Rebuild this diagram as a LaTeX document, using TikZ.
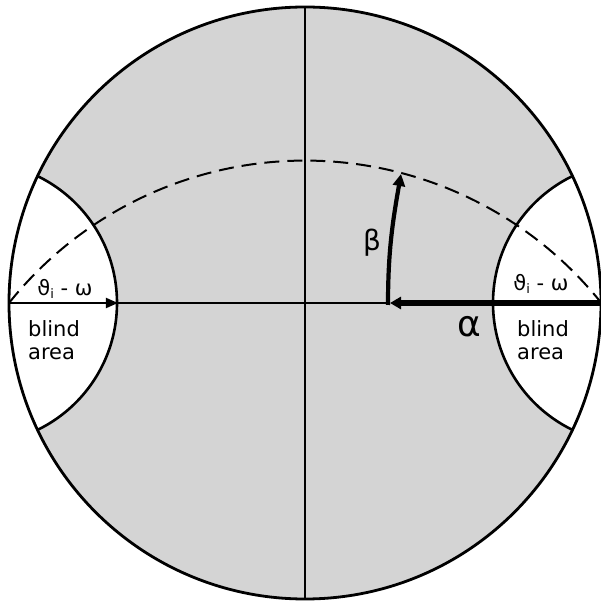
\documentclass[tikz,border=0pt]{standalone}
\usepackage{fontspec}
\setmainfont{DejaVu Sans}
\usetikzlibrary{arrows.meta}
\begin{document}
\begin{tikzpicture}[x=1pt,y=1pt,
  rim/.style={line width=2.8pt},
  axis/.style={line width=1.8pt},
  bound/.style={line width=2.6pt},
  lbl/.style={font=\fontsize{21}{23}\selectfont, align=left, inner sep=0pt},
  ang/.style={font=\fontsize{21}{22}\selectfont, inner sep=0pt},
  big/.style={inner sep=0pt}]
\useasboundingbox (-305,-298) rectangle (296,303);
\coordinate (O) at (0,0);
\coordinate (L) at (-296,0);
\coordinate (R) at (296,0);
\coordinate (T) at (0,296);
\coordinate (B) at (0,-296);
\coordinate (LB) at (-187,0);
\coordinate (P) at (85,0);
\coordinate (Q) at (96,129);
% shaded disc
\fill[black!17] (O) circle[radius=296];
\begin{scope}
  \clip (O) circle[radius=296];
  \fill[white] (-329,0) circle[radius=141];
  \fill[white] (329,0) circle[radius=141];
  \draw[bound] (-329,0) circle[radius=141];
  \draw[bound] (329,0) circle[radius=141];
\end{scope}
% dashed great circle
\draw[line width=2pt, dash pattern=on 15pt off 8pt] (L) arc[start angle=141.36, end angle=38.64, radius=379.2];
% axes
\draw[line width=2.2pt] (T) -- (B);
\draw[axis] (L) -- (P);
\draw[axis, -{Triangle[length=12pt,width=10pt]}] (L) -- (LB);
% alpha arrow
\draw[line width=5.5pt, -{Triangle[length=11pt,width=12pt]}] (R) -- (P);
% beta arrow
\draw[line width=4.2pt, -{Triangle[length=12pt,width=12pt]}] (83,-2) to[out=90,in=-100] (Q);
% rim
\draw[rim] (O) circle[radius=296];
% labels
\node[ang] (t1) at (-240,14) {ϑ\raisebox{-0.3ex}{\fontsize{13}{13}\selectfont i} - ω};
\node[ang] (t2) at (236,19) {ϑ\raisebox{-0.3ex}{\fontsize{13}{13}\selectfont i} - ω};
\node[lbl] (b1) at (-251,-37) {blind\\area};
\node[lbl] (b2) at (238,-37) {blind\\area};
\node[big, font=\fontsize{36}{36}\selectfont] (al) at (164,-24) {α};
\node[big, font=\fontsize{28}{28}\selectfont] (be) at (67,60) {β};
\end{tikzpicture}
\end{document}
